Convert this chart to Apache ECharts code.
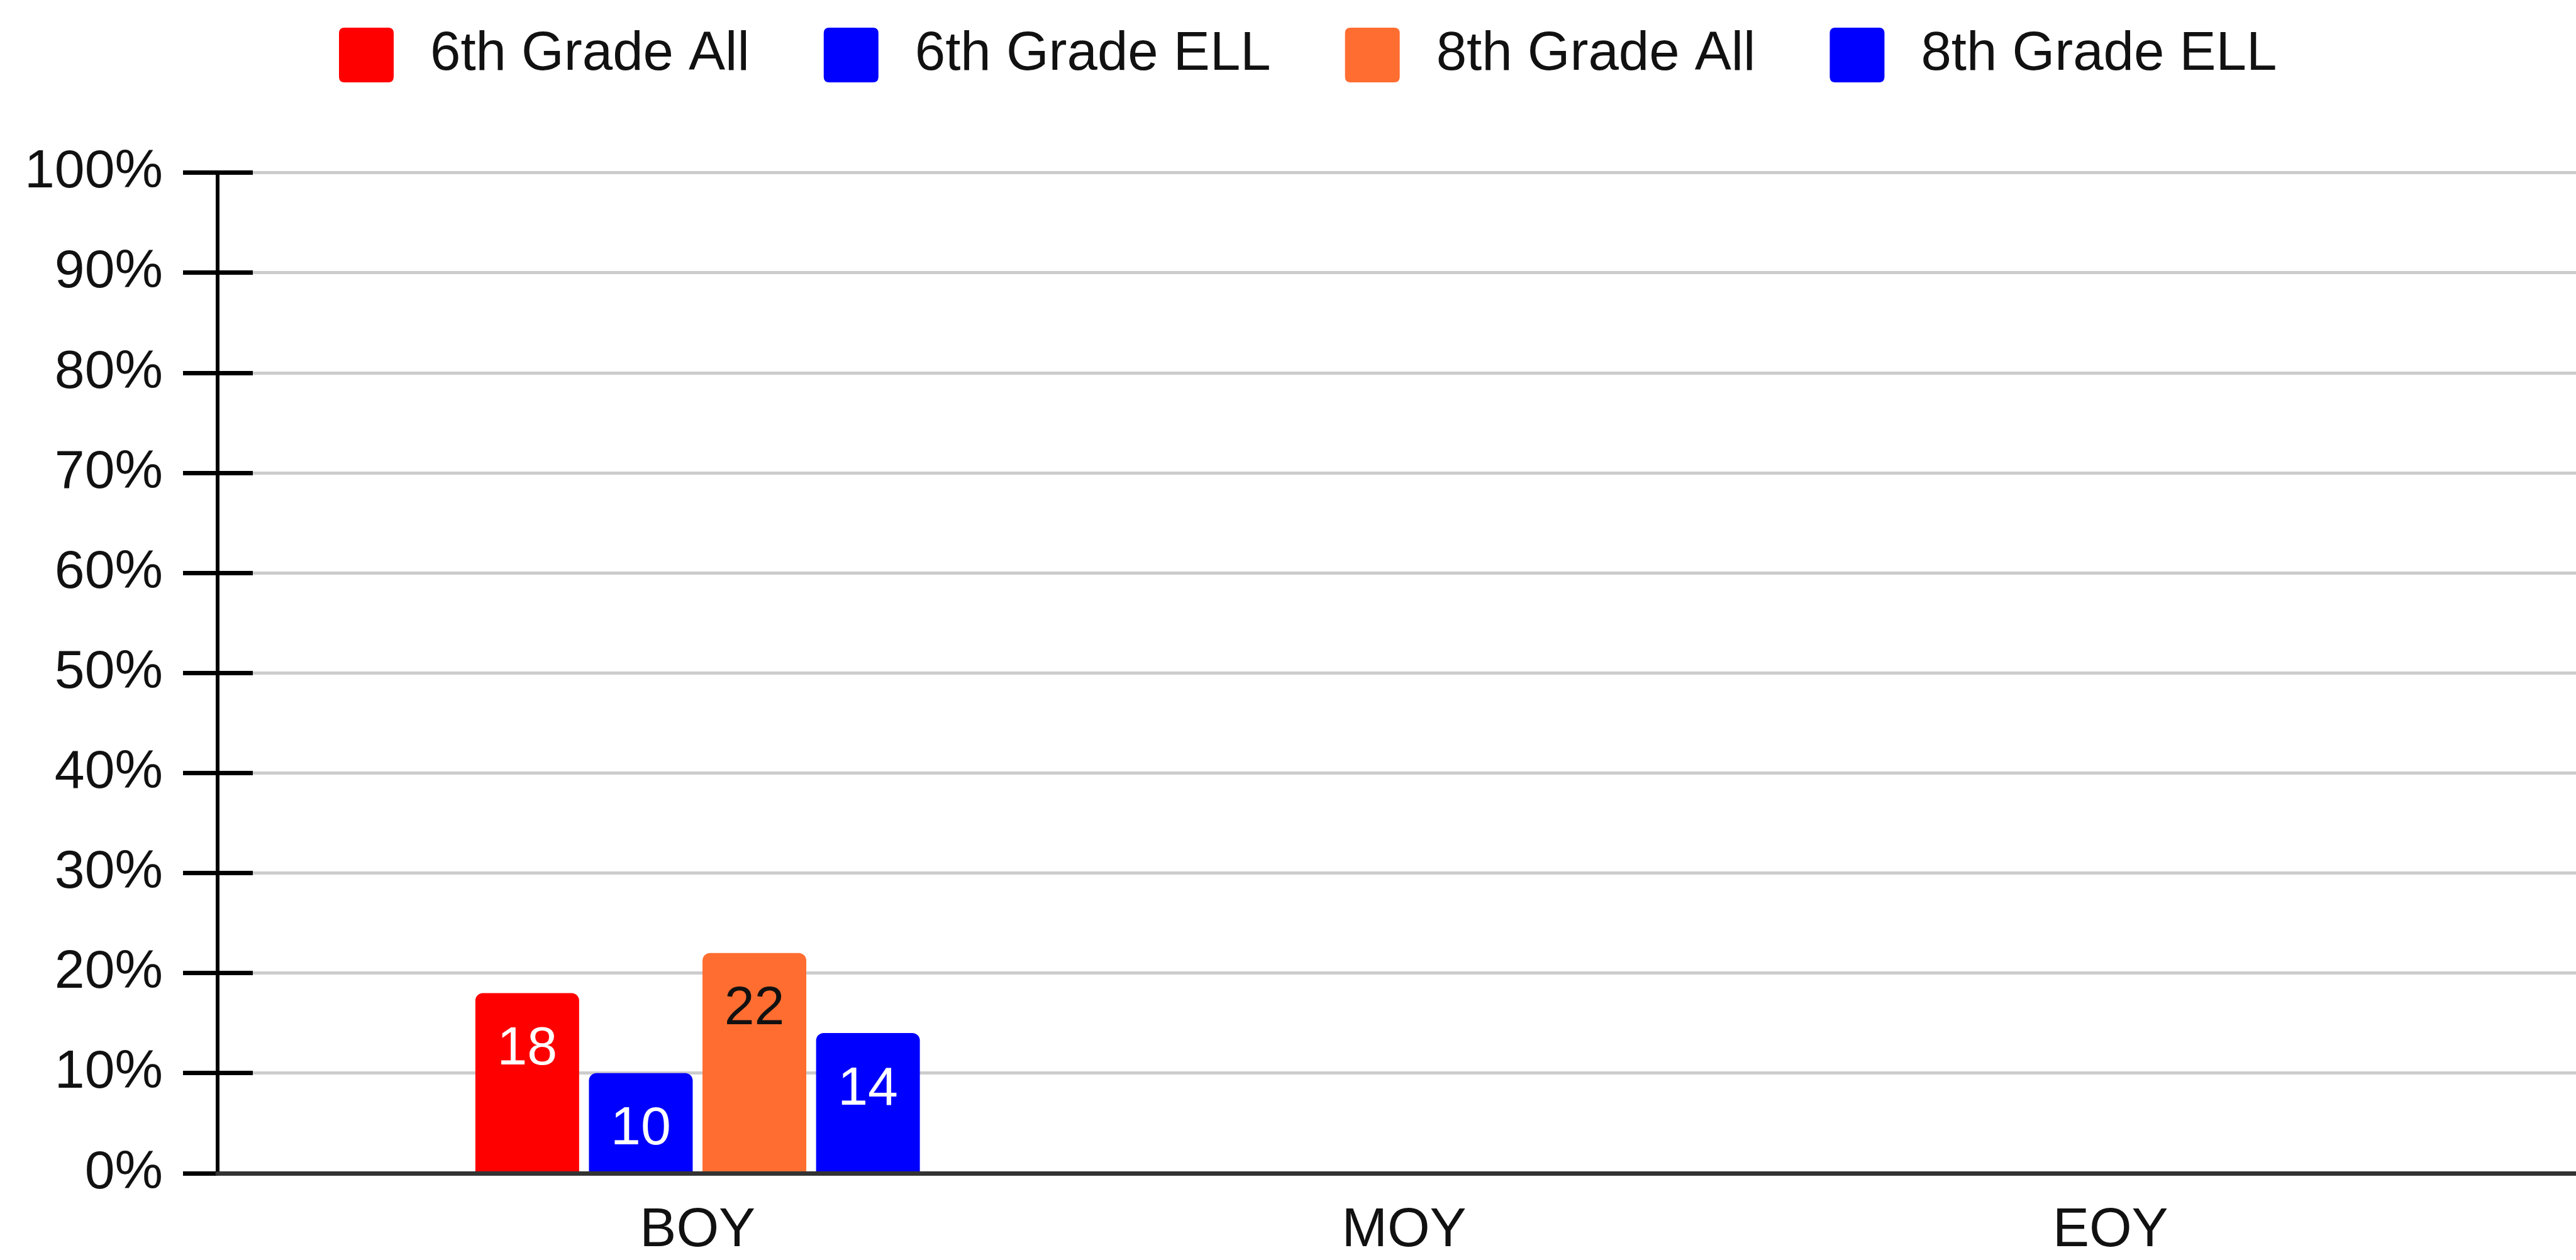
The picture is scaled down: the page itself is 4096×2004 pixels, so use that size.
<!DOCTYPE html>
<html>
<head>
<meta charset="utf-8">
<script src="https://cdn.jsdelivr.net/npm/echarts@6/dist/echarts.min.js"></script>
<style>
html,body{margin:0;padding:0;background:#ffffff;}
#chart{width:4096px;height:2004px;}
</style>
</head>
<body>
<div id="chart"></div>
<script>
// ---- data ----
const categories = ['BOY', 'MOY', 'EOY'];
const seriesNames = ['6th Grade All', '6th Grade ELL', '8th Grade All', '8th Grade ELL'];
const sixthGradeAll = [18, null, null];
const sixthGradeELL = [10, null, null];
const eighthGradeAll = [22, null, null];
const eighthGradeELL = [14, null, null];
const yMin = 0;
const yMax = 100;
const yStep = 10;

// ---- styles ----
const FONT = "'Liberation Sans', Arial, sans-serif";
const colors = ['#ff0000', '#0000ff', '#ff6d31', '#0000ff'];
const labelColors = ['#ffffff', '#ffffff', '#111111', '#ffffff'];
const seriesValues = [sixthGradeAll, sixthGradeELL, eighthGradeAll, eighthGradeELL];

const gridTop = 274.6;
const gridBottom = 2004 - 1865.8;

const chart = echarts.init(document.getElementById('chart'), null, {renderer: 'canvas'});

const option = {
  animation: false,
  backgroundColor: '#ffffff',
  legend: {
    data: seriesNames,
    left: 534,
    top: 39,
    itemWidth: 87,
    itemHeight: 87,
    itemGap: 118,
    icon: 'path://M2,0 H18 Q20,0 20,2 V18 Q20,20 18,20 H2 Q0,20 0,18 V2 Q0,0 2,0 Z',
    textStyle: {
      fontFamily: FONT,
      fontSize: 87,
      lineHeight: 87,
      color: '#111111',
      padding: [0, 0, 0, 53]
    }
  },
  grid: [
    {left: 346, right: 0, top: gridTop, bottom: gridBottom, containLabel: false},
    {left: 547.6, right: 178.6, top: gridTop, bottom: gridBottom, containLabel: false}
  ],
  xAxis: [
    {
      gridIndex: 0,
      type: 'value',
      min: 0,
      max: 1,
      position: 'bottom',
      z: 5,
      axisLine: {show: true, onZero: false, lineStyle: {color: '#333333', width: 7}},
      axisTick: {show: false},
      axisLabel: {show: false},
      splitLine: {show: false}
    },
    {
      gridIndex: 1,
      type: 'category',
      data: categories,
      position: 'bottom',
      axisLine: {show: false},
      axisTick: {show: false},
      axisLabel: {
        margin: 49,
        fontFamily: FONT,
        fontSize: 87,
        lineHeight: 87,
        color: '#111111'
      },
      splitLine: {show: false}
    }
  ],
  yAxis: [
    {
      gridIndex: 0,
      type: 'value',
      min: yMin,
      max: yMax,
      interval: yStep,
      position: 'left',
      axisLine: {show: true, lineStyle: {color: '#000000', width: 6}},
      axisTick: {show: true, length: 55, lineStyle: {color: '#000000', width: 7}},
      axisLabel: {
        formatter: '{value}%',
        margin: 87,
        fontFamily: FONT,
        fontSize: 86,
        lineHeight: 86,
        color: '#111111'
      },
      splitLine: {show: true, lineStyle: {color: '#cccccc', width: 5}}
    },
    {
      gridIndex: 0,
      type: 'value',
      min: yMin,
      max: yMax,
      interval: yStep,
      position: 'left',
      axisLine: {show: false},
      axisTick: {show: true, inside: true, length: 56, lineStyle: {color: '#000000', width: 7}},
      axisLabel: {show: false},
      splitLine: {show: false}
    },
    {
      gridIndex: 1,
      type: 'value',
      min: yMin,
      max: yMax,
      interval: yStep,
      show: false
    }
  ],
  series: seriesNames.map((name, i) => ({
    name: name,
    type: 'bar',
    xAxisIndex: 1,
    yAxisIndex: 2,
    data: seriesValues[i],
    barWidth: 165,
    barGap: '9.45%',
    itemStyle: {color: colors[i], borderRadius: [12, 12, 0, 0]},
    label: {
      show: true,
      position: 'insideTop',
      distance: 47,
      fontFamily: FONT,
      fontSize: 86,
      lineHeight: 86,
      color: labelColors[i]
    }
  }))
};

chart.setOption(option);
</script>
</body>
</html>
